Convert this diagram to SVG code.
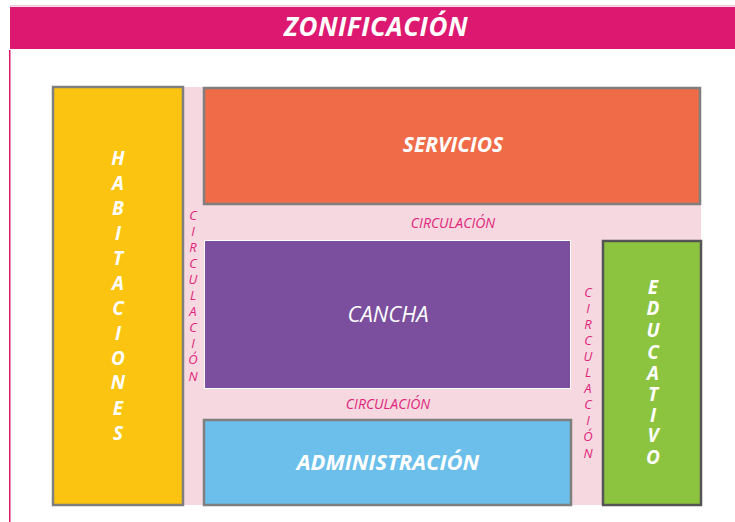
<svg xmlns="http://www.w3.org/2000/svg" width="735" height="522" viewBox="0 0 735 522">
<style>
.zone{stroke:#7f7f7f;stroke-width:2.5}
.circ{fill:#f5d8e0}
.lbl{font-family:"Open Sans","Liberation Sans",sans-serif;fill:#fff;text-anchor:middle;font-style:italic}
.b{font-weight:bold}
.c{font-family:"Open Sans","Liberation Sans",sans-serif;fill:#e0257a;font-style:italic;font-size:14px;text-anchor:middle}
.v{font-size:13px}
</style>
<rect width="735" height="522" fill="#fff"/>
<g id="header">
<rect x="10" y="5" width="725" height="1.5" fill="#f3c3d6"/>
<rect x="10" y="7" width="725" height="42" fill="#dc1870"/>
<rect x="9" y="50" width="1.5" height="472" fill="#dc1870"/>
<text class="lbl b" x="376" y="36" font-size="26" letter-spacing="0.5">ZONIFICACIÓN</text>
</g>
<g id="circulaciones">
<rect class="circ" x="183" y="87" width="21" height="418"/>
<rect class="circ" x="204" y="205" width="497" height="35"/>
<rect class="circ" x="571" y="240" width="32" height="265"/>
<rect class="circ" x="204" y="389" width="367" height="30"/>
<text class="c" x="453" y="228">CIRCULACIÓN</text>
<text class="c" x="388" y="409">CIRCULACIÓN</text>
<text class="c v" x="193" y="220"><tspan x="193">C</tspan><tspan x="193" dy="16">I</tspan><tspan x="193" dy="16">R</tspan><tspan x="193" dy="16">C</tspan><tspan x="193" dy="16">U</tspan><tspan x="193" dy="16">L</tspan><tspan x="193" dy="16">A</tspan><tspan x="193" dy="16">C</tspan><tspan x="193" dy="16">I</tspan><tspan x="193" dy="16">Ó</tspan><tspan x="193" dy="17">N</tspan></text>
<text class="c v" x="588" y="297"><tspan x="588">C</tspan><tspan x="588" dy="16">I</tspan><tspan x="588" dy="16">R</tspan><tspan x="588" dy="16">C</tspan><tspan x="588" dy="16">U</tspan><tspan x="588" dy="16">L</tspan><tspan x="588" dy="16">A</tspan><tspan x="588" dy="16">C</tspan><tspan x="588" dy="16">I</tspan><tspan x="588" dy="16">Ó</tspan><tspan x="588" dy="17">N</tspan></text>
</g>
<g id="habitaciones">
<rect class="zone" x="53" y="87" width="130" height="418" fill="#fbc410"/>
<text class="lbl b" font-size="19" x="118" y="165"><tspan x="118">H</tspan><tspan x="118" dy="25">A</tspan><tspan x="118" dy="25">B</tspan><tspan x="118" dy="25">I</tspan><tspan x="118" dy="25">T</tspan><tspan x="118" dy="25">A</tspan><tspan x="118" dy="25">C</tspan><tspan x="118" dy="25">I</tspan><tspan x="118" dy="25">O</tspan><tspan x="118" dy="24">N</tspan><tspan x="118" dy="26">E</tspan><tspan x="118" dy="25">S</tspan></text>
</g>
<g id="servicios">
<rect class="zone" x="204" y="88" width="496" height="116" fill="#f06b48"/>
<text class="lbl b" x="453" y="152" font-size="21">SERVICIOS</text>
</g>
<g id="cancha">
<rect x="205" y="241" width="365" height="147" fill="#7b4f9e"/>
<text class="lbl" x="388" y="322" font-size="22">CANCHA</text>
</g>
<g id="educativo">
<rect x="603" y="241" width="98" height="264" fill="#8dc43f" stroke="#555" stroke-width="2.5"/>
<text class="lbl b" font-size="19" x="653" y="294"><tspan x="653">E</tspan><tspan x="653" dy="21">D</tspan><tspan x="653" dy="22">U</tspan><tspan x="653" dy="22">C</tspan><tspan x="653" dy="21">A</tspan><tspan x="653" dy="21">T</tspan><tspan x="653" dy="21">I</tspan><tspan x="653" dy="20">V</tspan><tspan x="653" dy="22">O</tspan></text>
</g>
<g id="administracion">
<rect class="zone" x="204" y="420" width="367" height="85" fill="#6bbfea"/>
<text class="lbl b" x="388" y="470" font-size="22">ADMINISTRACIÓN</text>
</g>
</svg>
